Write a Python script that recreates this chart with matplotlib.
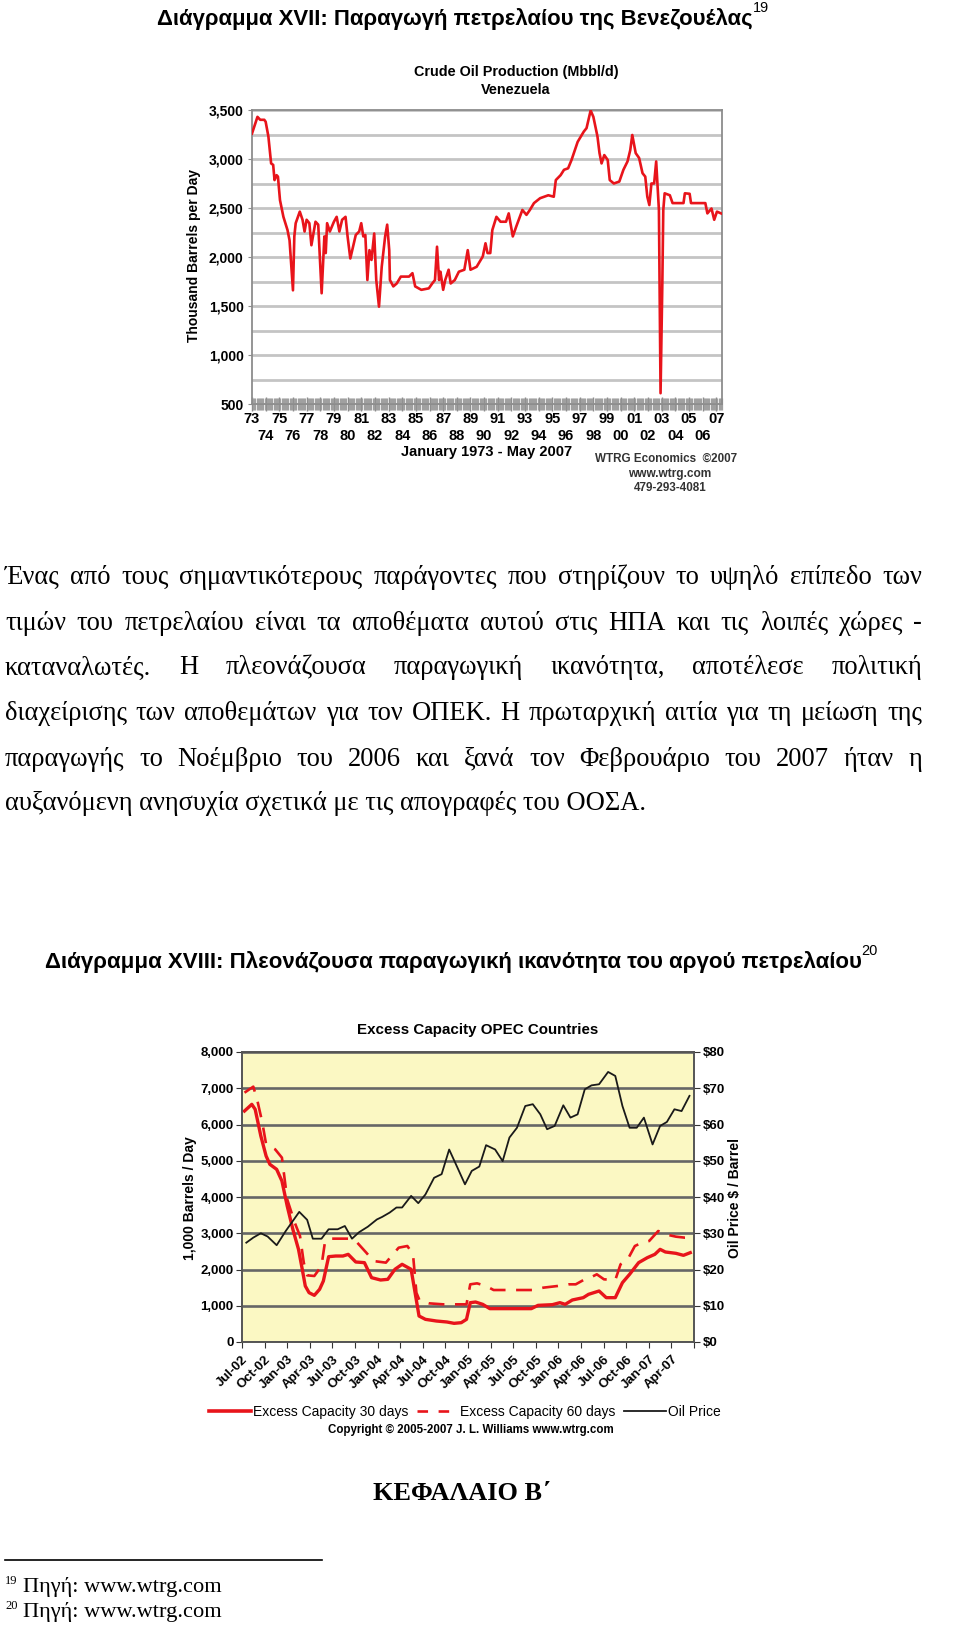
import matplotlib
matplotlib.use('Agg')
import matplotlib.pyplot as plt
from matplotlib.ticker import MultipleLocator, StrMethodFormatter
from matplotlib.lines import Line2D

# ---- chart 1: Venezuela crude oil production ----
venezuela_year = [1973.0, 1973.4, 1973.6, 1973.9, 1974.0, 1974.2, 1974.4, 1974.55, 1974.65, 1974.8,
                  1974.9, 1975.05, 1975.3, 1975.6, 1975.75, 1976.0, 1976.1, 1976.2, 1976.5, 1976.7,
                  1976.85, 1977.0, 1977.2, 1977.35, 1977.5, 1977.65, 1977.85, 1978.1, 1978.3, 1978.4,
                  1978.5, 1978.7, 1979.0, 1979.2, 1979.4, 1979.6, 1979.85, 1980.0, 1980.2, 1980.4,
                  1980.6, 1980.85, 1981.0, 1981.15, 1981.3, 1981.45, 1981.6, 1981.75, 1981.95, 1982.1,
                  1982.3, 1982.5, 1982.75, 1982.9, 1983.05, 1983.1, 1983.35, 1983.6, 1983.9, 1984.5,
                  1984.75, 1984.95, 1985.4, 1985.95, 1986.2, 1986.4, 1986.55, 1986.7, 1986.8, 1987.0,
                  1987.15, 1987.4, 1987.55, 1987.85, 1988.15, 1988.55, 1988.8, 1989.0, 1989.45, 1989.9,
                  1990.1, 1990.25, 1990.45, 1990.6, 1990.9, 1991.2, 1991.6, 1991.8, 1992.1, 1992.35,
                  1992.8, 1993.1, 1993.35, 1993.65, 1994.1, 1994.7, 1995.1, 1995.25, 1995.6, 1995.85,
                  1996.15, 1996.4, 1996.85, 1997.3, 1997.5, 1997.8, 1998.0, 1998.3, 1998.45, 1998.6,
                  1998.8, 1999.05, 1999.2, 1999.5, 1999.9, 2000.2, 2000.5, 2000.7, 2000.85, 2001.1,
                  2001.35, 2001.6, 2001.8, 2001.95, 2002.1, 2002.25, 2002.45, 2002.6, 2002.8, 2002.92,
                  2003.05, 2003.12, 2003.22, 2003.6, 2003.8, 2004.6, 2004.7, 2005.05, 2005.15, 2006.2,
                  2006.35, 2006.65, 2006.85, 2007.05, 2007.35]
venezuela_kbd = [3260, 3430, 3400, 3400, 3380, 3230, 2955, 2940, 2785, 2835,
                 2820, 2580, 2410, 2275, 2170, 1660, 2210, 2345, 2463, 2380,
                 2260, 2380, 2345, 2120, 2240, 2360, 2330, 1630, 2210, 2040,
                 2345, 2260, 2360, 2410, 2260, 2380, 2410, 2210, 1985, 2105,
                 2225, 2260, 2345, 2210, 2225, 1765, 2070, 1970, 2240, 1765,
                 1493, 1900, 2210, 2330, 2070, 1765, 1700, 1730, 1800, 1800,
                 1835, 1700, 1665, 1680, 1730, 1765, 2105, 1765, 1850, 1665,
                 1765, 1870, 1730, 1765, 1850, 1870, 2070, 1870, 1900, 2005,
                 2140, 2040, 2040, 2275, 2410, 2360, 2360, 2445, 2210, 2310,
                 2480, 2430, 2480, 2550, 2600, 2630, 2615, 2785, 2835, 2890,
                 2905, 2990, 3175, 3280, 3315, 3495, 3430, 3230, 3060, 2955,
                 3040, 2990, 2785, 2750, 2770, 2890, 2975, 3090, 3245, 3060,
                 3010, 2855, 2820, 2615, 2530, 2750, 2750, 2975, 2480, 610,
                 1730, 2480, 2650, 2630, 2550, 2550, 2650, 2645, 2550, 2550,
                 2445, 2495, 2380, 2463, 2445]
year_labels = ['73', '74', '75', '76', '77', '78', '79', '80', '81', '82', '83', '84',
               '85', '86', '87', '88', '89', '90', '91', '92', '93', '94', '95', '96',
               '97', '98', '99', '00', '01', '02', '03', '04', '05', '06', '07']

# ---- chart 2: OPEC excess capacity, months counted from Jul-02 ----
cap30_month = [0.33, 1.3, 1.75, 2.5, 3.2, 3.7, 4.6, 5.3, 6.0, 6.75, 7.5, 8.0, 8.4, 8.9, 9.6,
               10.3, 10.8, 11.5, 12.45, 13.4, 14.1, 15.1, 16.25, 17.2, 18.4, 19.35, 20.3, 21.25,
               22.45, 22.9, 23.5, 24.35, 25.8, 27.2, 28.15, 29.1, 29.8, 30.3, 31.0, 31.95, 32.9,
               34.8, 37.2, 38.4, 39.3, 41.2, 42.2, 42.9, 43.85, 45.3, 46.0, 47.4, 48.35, 49.55,
               50.5, 51.45, 52.65, 53.8, 54.8, 55.5, 56.2, 57.6, 58.6, 59.5]
cap30_kbd = [6372, 6556, 6418, 5683, 5131, 4901, 4763, 4441, 3752, 3108, 2556, 2005, 1545, 1361, 1287,
             1453, 1683, 2354, 2372, 2372, 2418, 2207, 2189, 1775, 1710, 1729, 2005, 2143,
             2005, 1453, 717, 625, 579, 552, 515, 533, 625, 1085, 1103, 1039, 920,
             920, 920, 920, 1011, 1030, 1085, 1039, 1159, 1223, 1315, 1407, 1223, 1223,
             1637, 1867, 2189, 2326, 2418, 2556, 2483, 2446, 2391, 2464]
cap60_month = [0.33, 1.5, 2.0, 2.7, 3.2, 4.4, 5.3, 6.0, 7.0, 7.7, 8.2, 8.65, 9.6, 10.55, 11.0,
               11.5, 14.35, 15.3, 16.5, 17.45, 19.1, 19.85, 20.8, 21.95, 22.7, 23.15, 23.6, 24.8,
               26.7, 28.6, 29.8, 30.3, 31.2, 32.4, 33.4, 34.8, 37.2, 38.6, 40.0, 41.9, 43.35,
               44.3, 45.5, 46.4, 47.1, 48.05, 49.55, 50.25, 51.2, 52.15, 53.1, 54.05, 55.25,
               56.2, 57.6, 58.8, 59.5]
cap60_kbd = [6878, 7044, 6694, 6050, 5453, 5315, 5085, 3936, 3292, 2924, 2189, 1839, 1821, 2097, 2740,
             2851, 2851, 2740, 2464, 2234, 2189, 2372, 2602, 2648, 2418, 1361, 1131, 1067,
             1039, 1039, 1039, 1591, 1618, 1545, 1434, 1434, 1434, 1434, 1499, 1545, 1591,
             1591, 1729, 1793, 1867, 1729, 1710, 2143, 2280, 2648, 2740, 2786, 3062,
             2970, 2906, 2878, 2878]
price_month = [0.57, 1.5, 2.5, 3.4, 4.6, 5.8, 6.75, 7.6, 8.65, 9.4, 10.55, 11.5, 12.7, 13.65,
               14.6, 15.55, 16.7, 17.9, 18.6, 19.6, 20.5, 21.25, 22.45, 23.4, 24.35, 25.5, 26.5,
               27.5, 28.6, 29.6, 30.5, 31.5, 32.4, 33.6, 34.6, 35.5, 36.5, 37.6, 38.6, 39.6,
               40.5, 41.5, 42.65, 43.6, 44.55, 45.5, 46.4, 47.4, 48.6, 49.55, 50.5, 51.45, 52.4,
               53.35, 54.5, 55.5, 56.4, 57.4, 58.35, 59.4]
price_usd = [27.4, 28.8, 30.0, 29.1, 26.7, 30.6, 33.4, 35.9, 33.7, 28.5, 28.5, 31.1, 31.1, 32.0,
             28.5, 30.3, 31.8, 33.8, 34.5, 35.7, 37.1, 37.1, 40.3, 38.3, 40.7, 45.3, 46.3,
             53.1, 48.1, 43.5, 47.2, 48.4, 54.3, 53.1, 49.9, 56.4, 59.1, 65.1, 65.6, 62.8,
             58.7, 59.6, 65.3, 61.9, 62.8, 69.7, 70.8, 71.1, 74.5, 73.4, 65.1, 59.1, 59.1,
             61.9, 54.5, 59.6, 60.7, 64.2, 63.7, 67.9]
opec_tick_labels = ['Jul-02', 'Oct-02', 'Jan-03', 'Apr-03', 'Jul-03', 'Oct-03', 'Jan-04',
                    'Apr-04', 'Jul-04', 'Oct-04', 'Jan-05', 'Apr-05', 'Jul-05', 'Oct-05',
                    'Jan-06', 'Apr-06', 'Jul-06', 'Oct-06', 'Jan-07', 'Apr-07']

paragraph_lines = [
    'Ένας από τους σημαντικότερους παράγοντες που στηρίζουν το υψηλό επίπεδο των',
    'τιμών του πετρελαίου είναι τα αποθέματα αυτού στις ΗΠΑ και τις λοιπές χώρες -',
    'καταναλωτές. Η πλεονάζουσα παραγωγική ικανότητα, αποτέλεσε πολιτική',
    'διαχείρισης των αποθεμάτων για τον ΟΠΕΚ.  Η πρωταρχική αιτία για τη μείωση της',
    'παραγωγής το Νοέμβριο του 2006 και ξανά τον Φεβρουάριο του 2007 ήταν η',
    'αυξανόμενη ανησυχία σχετικά με τις απογραφές του ΟΟΣΑ.',
]
paragraph_y = [577, 623, 668, 714, 759, 804]

SERIF = ['Liberation Serif', 'DejaVu Serif']
SANS = ['Liberation Sans', 'DejaVu Sans']
W, H = 960, 1627

fig = plt.figure(figsize=(W / 100, H / 100), dpi=100)
fig.patch.set_facecolor('white')
renderer = fig.canvas.get_renderer()


def px(x):
    return x / W


def py(y):
    return 1 - y / H


def fit_text(x0, x1, y, s, **kw):
    """Put text starting at x0 and scale its size so it ends at x1."""
    t = fig.text(px(x0), py(y), s, va='center', ha='left', fontsize=10, **kw)
    w = t.get_window_extent(renderer).width
    t.set_fontsize(10 * (x1 - x0) / w)
    return t


def box(x0, y0, x1, y1):
    return [px(x0), py(y1), px(x1) - px(x0), py(y0) - py(y1)]


# ---- page text ----
t1 = fit_text(157, 751, 19, 'Διάγραμμα XVII: Παραγωγή πετρελαίου της Βενεζουέλας',
              family=SANS, weight='bold')
fig.text(px(753), py(8), '19', family=SANS, fontsize=t1.get_fontsize() * 0.65,
         va='center', ha='left')
t2 = fit_text(45, 860, 962, 'Διάγραμμα XVIII: Πλεονάζουσα παραγωγική ικανότητα του αργού πετρελαίου',
              family=SANS, weight='bold')
fig.text(px(861), py(951), '20', family=SANS, fontsize=t2.get_fontsize() * 0.65,
         va='center', ha='left')

# body text: size from the last (unjustified) line, other lines justified
left, right = 5, 922
last = fit_text(left, 648, paragraph_y[-1], paragraph_lines[-1], family=SERIF)
body_size = last.get_fontsize()
for line, y in zip(paragraph_lines[:-1], paragraph_y[:-1]):
    words = line.split()
    parts = [fig.text(0, py(y), w, family=SERIF, fontsize=body_size, va='center', ha='left')
             for w in words]
    widths = [p.get_window_extent(renderer).width for p in parts]
    gap = (right - left - sum(widths)) / (len(words) - 1)
    x = left
    for p, w in zip(parts, widths):
        p.set_x(px(x))
        x += w + gap

fit_text(373, 550, 1493, 'ΚΕΦΑΛΑΙΟ Β΄', family=SERIF, weight='bold')
fig.add_artist(Line2D([px(5), px(322)], [py(1560), py(1560)], color='black', lw=1.2))
for num, y in [('19', 1587), ('20', 1612)]:
    fig.text(px(5), py(y - 6), num, family=SERIF, fontsize=9, va='center', ha='left')
    fit_text(23, 221, y, 'Πηγή: www.wtrg.com', family=SERIF)

# ---- chart 1 ----
ax1 = fig.add_axes(box(252, 110, 722, 404))
ax1.plot(venezuela_year, venezuela_kbd, color='#e8141b', lw=1.9, zorder=3)
ax1.set_xlim(1973, 2007.42)
ax1.set_ylim(500, 3500)
ax1.yaxis.set_major_locator(MultipleLocator(500))
ax1.yaxis.set_minor_locator(MultipleLocator(250))
ax1.yaxis.set_major_formatter(StrMethodFormatter('{x:,.0f}'))
ax1.grid(axis='y', which='both', color='#c4c4c4', lw=2)
ax1.set_axisbelow(True)
ax1.set_xticks(range(1973, 2008))
ax1.set_xticklabels([lab if i % 2 == 0 else '\n' + lab for i, lab in enumerate(year_labels)])
ax1.xaxis.set_minor_locator(MultipleLocator(1 / 12))
ax1.tick_params(axis='x', which='major', direction='inout', length=10, color='#8c8c8c',
                width=1, pad=1, labelsize=10.5)
ax1.tick_params(axis='x', which='minor', direction='inout', length=9, color='#a0a0a0', width=0.9)
ax1.tick_params(axis='y', which='major', length=3, color='#8c8c8c', labelsize=10, pad=3)
ax1.tick_params(axis='y', which='minor', length=0)
for lab in ax1.get_xticklabels() + ax1.get_yticklabels():
    lab.set_fontweight('bold')
    lab.set_family(SANS)
for sp in ax1.spines.values():
    sp.set_color('#8c8c8c')
    sp.set_linewidth(1.3)

fig.text(px(516), py(72), 'Crude Oil Production (Mbbl/d)', family=SANS, weight='bold',
         fontsize=10.4, ha='center', va='center')
fig.text(px(516), py(90), 'Venezuela', family=SANS, weight='bold', fontsize=10.4,
         ha='center', va='center')
fig.text(px(194), py(256), 'Thousand Barrels per Day', family=SANS, weight='bold',
         fontsize=10, rotation=90, ha='center', va='center')
fig.text(px(487), py(452), 'January 1973 - May 2007', family=SANS, weight='bold',
         fontsize=10.5, ha='center', va='center')
fig.text(px(666), py(459), 'WTRG Economics  ©2007', family=SANS, weight='bold',
         fontsize=8.4, ha='center', va='center', color='#333333')
fig.text(px(670), py(474), 'www.wtrg.com', family=SANS, weight='bold',
         fontsize=8.6, ha='center', va='center', color='#333333')
fig.text(px(670), py(488), '479-293-4081', family=SANS, weight='bold',
         fontsize=8.4, ha='center', va='center', color='#333333')

# ---- chart 2 ----
ax2 = fig.add_axes(box(242, 1052, 694, 1342))
ax2.set_facecolor('#fbf8c3')
ax2.plot(cap30_month, cap30_kbd, color='#e8141b', lw=2.4, zorder=3)
ax2.plot(cap60_month, cap60_kbd, color='#e8141b', lw=1.9, dashes=(6, 4), zorder=3)
ax2.set_xlim(0, 60)
ax2.set_ylim(0, 8000)
ax2.yaxis.set_major_locator(MultipleLocator(1000))
ax2.yaxis.set_major_formatter(StrMethodFormatter('{x:,.0f}'))
ax2.grid(axis='y', color='#666666', lw=1.9)
ax2.set_axisbelow(True)
ax2.set_xticks(range(0, 61, 3))
ax2.set_xticklabels(opec_tick_labels + [''], rotation=45, ha='right', rotation_mode='anchor')
ax2.tick_params(axis='x', length=4, color='#333333', labelsize=9.5, pad=4)
ax2.tick_params(axis='y', length=4, color='#333333', labelsize=9.5, pad=2)

ax2b = ax2.twinx()
ax2b.plot(price_month, price_usd, color='#1a1a1a', lw=1.3, zorder=3)
ax2b.set_ylim(0, 80)
ax2b.yaxis.set_major_locator(MultipleLocator(10))
ax2b.yaxis.set_major_formatter(StrMethodFormatter('${x:.0f}'))
ax2b.tick_params(axis='y', length=4, color='#333333', labelsize=9.5, pad=2)
for a in (ax2, ax2b):
    for lab in a.get_xticklabels() + a.get_yticklabels():
        lab.set_fontweight('bold')
        lab.set_family(SANS)
    for sp in a.spines.values():
        sp.set_color('#555555')
        sp.set_linewidth(1.2)

fig.text(px(478), py(1030), 'Excess Capacity OPEC Countries', family=SANS, weight='bold',
         fontsize=10.9, ha='center', va='center')
fig.text(px(190), py(1198), '1,000 Barrels / Day', family=SANS, weight='bold',
         fontsize=10, rotation=90, ha='center', va='center')
fig.text(px(735), py(1198), 'Oil Price $ / Barrel', family=SANS, weight='bold',
         fontsize=10, rotation=90, ha='center', va='center')

handles = [Line2D([], [], color='#e8141b', lw=2.6),
           Line2D([], [], color='#e8141b', lw=1.9, dashes=(4, 4)),
           Line2D([], [], color='#1a1a1a', lw=1.3)]
fig.legend(handles, ['Excess Capacity 30 days', 'Excess Capacity 60 days', 'Oil Price'],
           loc='center', bbox_to_anchor=(px(465), py(1412)), ncol=3, frameon=False,
           prop={'family': SANS, 'size': 10}, handlelength=3.0, handletextpad=0.15,
           columnspacing=0.6)
fig.text(px(471), py(1430), 'Copyright © 2005-2007 J. L. Williams www.wtrg.com', family=SANS,
         weight='bold', fontsize=8.3, ha='center', va='center')

fig.savefig('out.png', dpi=100)
